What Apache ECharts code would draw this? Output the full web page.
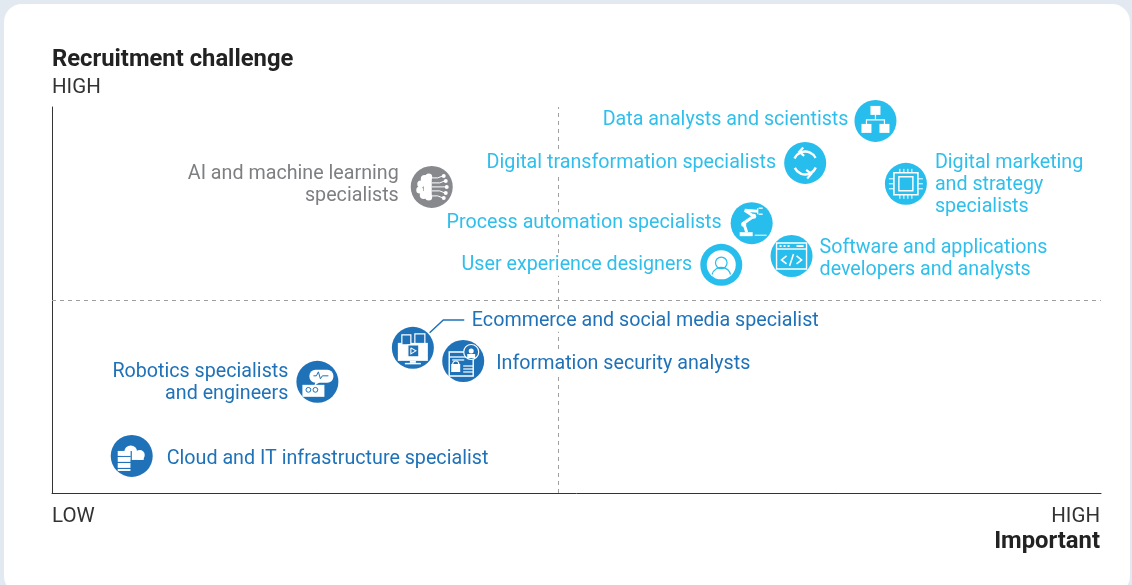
<!DOCTYPE html>
<html><head><meta charset="utf-8">
<style>html,body{margin:0;padding:0;background:#e3e9f1}#c{width:1132px;height:585px}</style>
<script src="https://cdn.jsdelivr.net/npm/echarts@6/dist/echarts.min.js"></script>
</head><body><div id="c"></div>
<script>
const names = ['Data analysts and scientists','Digital transformation specialists','Digital marketing\nand strategy\nspecialists','AI and machine learning\nspecialists','Process automation specialists','Software and applications\ndevelopers and analysts','User experience designers','Ecommerce and social media specialist','Information security analysts','Robotics specialists\nand engineers','Cloud and IT infrastructure specialist'];
const importance = [78.5,71.8,81.4,36.2,66.7,70.5,63.8,34.4,39.2,25.3,7.6];
const challenge = [96.4,85.5,80.1,79.3,69.9,61.4,59.1,37.6,34.2,28.8,9.6];
const groups = ['light','light','light','grey','light','light','light','dark','dark','dark','dark'];
const icons = ['org','cycle','chip','brain','robot','code','user','media','secure','bot','cloud'];
const sides = ['left','left','right','left','left','right','left','right','right','left','right'];
const connectorX = [36.0,37.3,39.3];
const connectorY = [41.5,44.8,44.8];
const midX = 48.25, midY = 50;

const labelGap = [6,8,8,12,9,7,8,14,12,8,14];
const labelShift = [[0,-1],[0,0],[0,1],[0,-2],[0,0],[0,3],[0,0],[24,-27],[0,3],[0,1],[0,3]];
const colors = {light:'#27bdec',grey:'#87898c',dark:'#1f72b8'};
const textColors = {light:'#2ebfec',grey:'#7d7f82',dark:'#1f72b8'};
const FONT = 'Roboto, sans-serif';
const W = '#fff', LB = colors.light, DB = colors.dark;
const R=(x,y,w,h,o={})=>({type:'rect',shape:{x,y,width:w,height:h},style:o.s?{fill:'none',stroke:W,lineWidth:o.s}:{fill:o.f||W}});
const C=(cx,cy,r,o={})=>({type:'circle',shape:{cx,cy,r},style:o.s?{fill:o.f||'none',stroke:o.c||W,lineWidth:o.s}:{fill:o.f||W}});
const L=(pts,s=1.2,c=W)=>({type:'polyline',shape:{points:pts},style:{fill:'none',stroke:c,lineWidth:s}});
const A=(cx,cy,r,a,b,s=2,c=W)=>({type:'arc',shape:{cx,cy,r,startAngle:a,endAngle:b},style:{fill:'none',stroke:c,lineWidth:s}});
const P=(pts)=>({type:'polygon',shape:{points:pts},style:{fill:W}});
function ticks(list){return list.map(p=>L(p,1));}
const glyphs = {
 org:[R(-5,-15,10,9),R(-14,3,10,9),R(4,3,10,9),L([[0,-6],[0,-1]]),L([[-9,3],[-9,-1],[9,-1],[9,3]])],
 cycle:[A(0,0,11.5,-2.75,-0.45,2.4),A(0,0,11.5,0.4,2.7,2.4),L([[-2,-15.5],[-6,-11],[-1,-7]],2.2),L([[2,15.5],[6,11],[1,7]],2.2)],
 chip:[R(-12,-11,24,22,{s:1.6}),R(-7,-7,14,14,{s:1.4}),...ticks([[[-17,-5],[-12,-5]],[[-17,0],[-12,0]],[[-17,5],[-12,5]],[[12,-5],[17,-5]],[[12,0],[17,0]],[[12,5],[17,5]],[[-6,-15],[-6,-11]],[[-2,-15],[-2,-11]],[[2,-15],[2,-11]],[[6,-15],[6,-11]],[[-6,11],[-6,15]],[[-2,11],[-2,15]],[[2,11],[2,15]],[[6,11],[6,15]]])],
 brain:[C(-7,-8,4),C(-11,-3,3.5),C(-12,3,3.5),C(-8,8,4),C(-3,-10,3.5),C(-3,10,3.5),R(-8,-8,8,16),L([[0,-9],[6,-9],[11,-11]],1),L([[0,-4],[8,-4],[13,-6]],1),L([[0,0],[14,0]],1),L([[0,4],[8,4],[13,6]],1),L([[0,9],[6,9],[11,11]],1),C(12,-11,2),C(14,-6,2),C(15,0,2),C(14,6,2),C(12,11,2)],
 robot:[R(-12,9,13,4),L([[-5,9],[-8,0],[2,-7],[-7,-13]],3),L([[-7,-13],[6,-12]],3),C(-8,1,2.5),C(2,-7,2.5),L([[7,-15],[11,-15]],1.3),L([[7,-9],[11,-9]],1.3),L([[6,-15],[6,-9]],1.3),L([[3,12],[15,12]],1)],
 code:[R(-15,-13,30,26,{s:1.4}),L([[-15,-7],[15,-7]],1.4),R(-12,-11,2,2),R(-8,-11,2,2),R(-4,-11,2,2),R(5,-11,7,2),L([[-5,0],[-10,4],[-5,8]],1.6),L([[5,0],[10,4],[5,8]],1.6),L([[2,-2],[-2,10]],1.6)],
 user:[C(0,0,14.5),C(0,-2,5.8,{s:1.2,c:LB}),A(0,12,9.5,Math.PI*1.08,Math.PI*1.92,1.2,LB)],
 media:[R(-15,-5,30,18),R(-3,13,6,2),R(-8,15,16,1.5),R(-11,-13,9,10,{f:DB}),R(-11,-13,9,10,{s:1.2}),R(2,-14,10,10,{s:1.2}),R(-5,-3,11,12,{f:DB}),R(-5,-3,11,12,{s:1.2}),L([[-2,0],[3,3],[-2,6],[-2,0]],1.1)],
 secure:[R(-14,-9,24,24,{s:1.4}),L([[-14,-4],[3,-4]],1.3),L([[-11,-1],[1,-1]],1.2),R(-12,3,9,8),A(-7.5,3,3,Math.PI,0,1.2),L([[0,5],[10,5]],1.2),L([[0,8],[10,8]],1.2),L([[0,11],[10,11]],1.2),C(8,-9,7.5,{f:DB,s:1.2}),C(8,-10,2.5),R(4,-7,8,4)],
 bot:[{type:'rect',shape:{x:-8,y:-12,width:24,height:13,r:6},style:{fill:W}},P([[-2,0],[3,0],[-3,4]]),L([[-4,-6],[-1,-6],[1,-10],[3,-3],[5,-6],[11,-6]],1,DB),R(-15,3,22,12),C(-9,8,2.4,{s:1,c:DB}),C(-2,8,2.4,{s:1,c:DB})],
 cloud:[C(-1,-4,6.5),C(8,-1,5),C(-7,0,4),R(-7,-1,19,5),R(-14,-5,13,5),R(-14,1,13,5),R(-14,7,13,5),R(-14,13,13,2),L([[-14,0.5],[-1,0.5]],1,DB),L([[-14,6.5],[-1,6.5]],1,DB),L([[-14,12.5],[-1,12.5]],1,DB),L([[-0.5,-5],[-0.5,15]],1.2,DB)]
};

const circleData = names.map((n,i)=>({
  value:[importance[i],challenge[i]],
  itemStyle:{color:colors[groups[i]],opacity:1},
  label:{show:true,formatter:n,position:sides[i],distance:labelGap[i],opacity:1,
    color:textColors[groups[i]],fontFamily:FONT,fontSize:19.7,lineHeight:22,align:sides[i]==='left'?'right':'left',verticalAlign:'middle',
    backgroundColor:'#fff'}
}));
const dash = {color:'#a0a0a0',type:[4,4],width:1};
const option = {
  animation:false,
  backgroundColor:'#e3e9f1',
  graphic:[
    {type:'rect',z:-10,shape:{x:4,y:4,width:1126,height:590,r:18},style:{fill:'#fff'}},
    {type:'text',left:52,top:48,style:{text:'Recruitment challenge',font:'700 23.8px '+FONT,fill:'#222'}},
    {type:'text',left:52,top:77,style:{text:'HIGH',font:'20.5px '+FONT,fill:'#333'}},
    {type:'text',left:52,top:506,style:{text:'LOW',font:'20.5px '+FONT,fill:'#333'}},
    {type:'text',right:32,top:506,style:{text:'HIGH',font:'20.5px '+FONT,fill:'#333',textAlign:'right'}},
    {type:'text',right:32,top:530,style:{text:'Important',font:'700 23.8px '+FONT,fill:'#222',textAlign:'right'}}
  ],
  grid:{left:52,right:31,top:107,bottom:92},
  xAxis:{type:'value',min:0,max:100,axisLine:{show:true,lineStyle:{color:'#333',width:1}},axisTick:{show:false},axisLabel:{show:false},splitLine:{show:false}},
  yAxis:{type:'value',min:0,max:100,axisLine:{show:true,lineStyle:{color:'#333',width:1}},axisTick:{show:false},axisLabel:{show:false},splitLine:{show:false}},
  series:[
    {type:'line',z:1,symbol:'none',silent:true,data:connectorX.map((x,i)=>[x,connectorY[i]]),lineStyle:{color:colors.dark,width:1.5},
     markLine:{z:1,silent:true,symbol:'none',label:{show:false},lineStyle:dash,data:[{xAxis:midX},{yAxis:midY}]}},
    {type:'scatter',z:3,symbol:'circle',symbolSize:42,data:circleData,
     labelLayout:(p)=>({hideOverlap:false,dx:labelShift[p.dataIndex][0],dy:labelShift[p.dataIndex][1]})},
    {type:'custom',z:4,silent:true,coordinateSystem:'cartesian2d',
     data:names.map((n,i)=>[importance[i],challenge[i],i]),
     renderItem:(p,api)=>{
       const pt=api.coord([api.value(0),api.value(1)]);
       return {type:'group',x:pt[0],y:pt[1],children:glyphs[icons[api.value(2)]].map(g=>JSON.parse(JSON.stringify(g)))};
     }}
  ]
};
echarts.init(document.getElementById('c')).setOption(option);
</script></body></html>
